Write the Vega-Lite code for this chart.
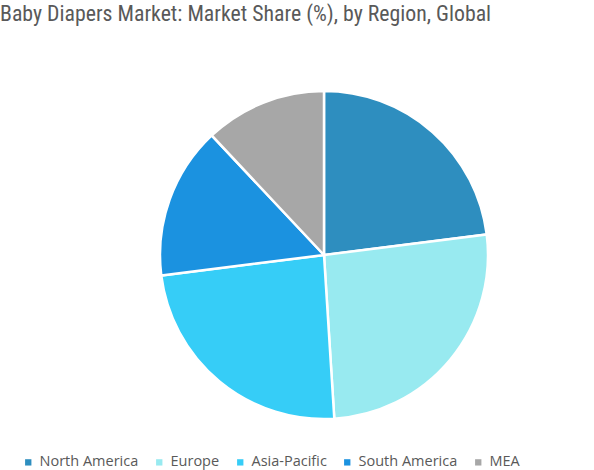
{
  "$schema": "https://vega.github.io/schema/vega-lite/v6.json",
  "width": 328,
  "height": 328,
  "autosize": "none",
  "padding": {"left": 160, "top": 91, "right": 106, "bottom": 51},
  "background": "white",
  "title": {
    "text": "Baby Diapers Market: Market Share (%), by Region, Global",
    "anchor": "start",
    "frame": "group",
    "dx": -160,
    "dy": -56,
    "font": "Roboto Condensed, Liberation Sans Narrow, Roboto",
    "fontSize": 21.8,
    "fontWeight": "normal",
    "color": "#595959"
  },
  "data": {
    "values": [
      {"region": "North America", "share": 23, "rank": 1},
      {"region": "Europe", "share": 26, "rank": 2},
      {"region": "Asia-Pacific", "share": 24, "rank": 3},
      {"region": "South America", "share": 15, "rank": 4},
      {"region": "MEA", "share": 12, "rank": 5}
    ]
  },
  "mark": {"type": "arc", "stroke": "white", "strokeWidth": 2.5},
  "encoding": {
    "theta": {"field": "share", "type": "quantitative", "stack": true},
    "order": {"field": "rank", "type": "quantitative"},
    "color": {
      "field": "region",
      "type": "nominal",
      "sort": ["North America", "Europe", "Asia-Pacific", "South America", "MEA"],
      "scale": {
        "domain": ["North America", "Europe", "Asia-Pacific", "South America", "MEA"],
        "range": ["#2e8ebf", "#98eaf0", "#36cdf7", "#1b92e0", "#a7a7a7"]
      },
      "legend": {
        "title": null,
        "orient": "none",
        "direction": "horizontal",
        "legendX": -139,
        "legendY": 364,
        "symbolType": "square",
        "symbolSize": 40,
        "symbolStrokeWidth": 0,
        "labelFont": "Open Sans",
        "labelFontSize": 14.5,
        "labelColor": "#595959",
        "labelOffset": 4,
        "columnPadding": 13,
        "labelLimit": 200
      }
    }
  },
  "config": {"view": {"stroke": null}}
}
